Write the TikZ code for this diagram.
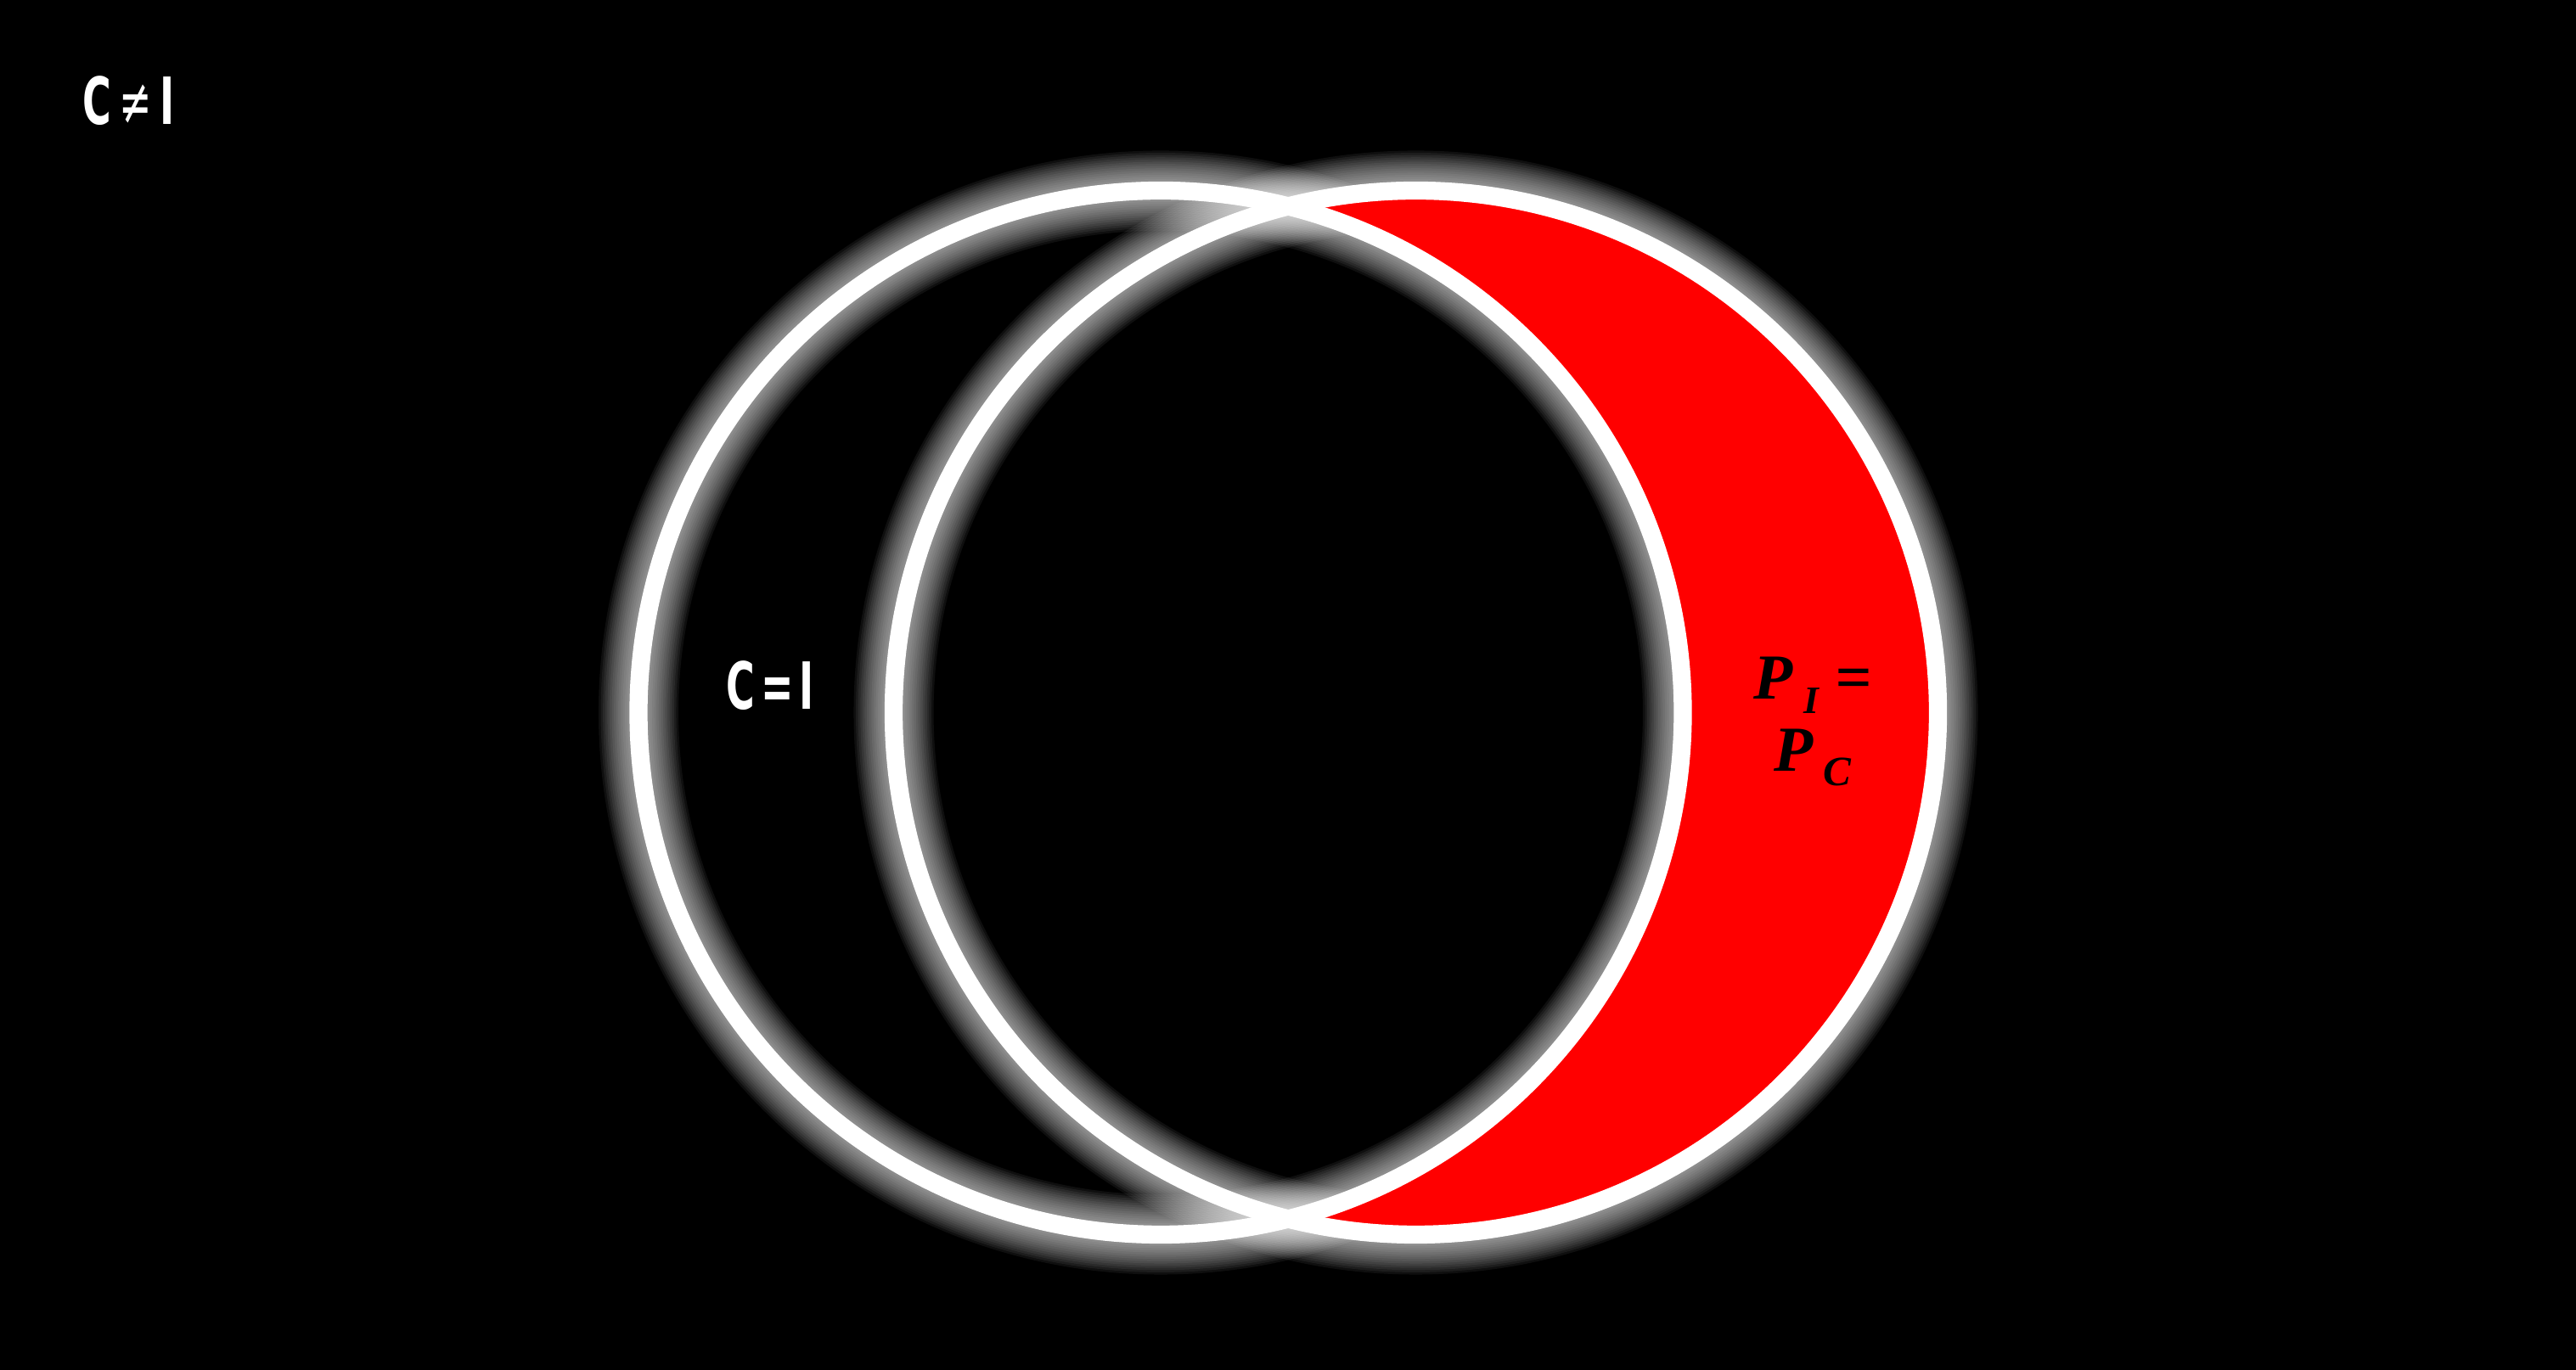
\documentclass[tikz,border=0pt]{standalone}
\usepackage{fontspec}
\newfontfamily\capfont{DejaVu Sans}
\newfontfamily\pfont{Liberation Serif}
\definecolor{myred}{RGB}{255,0,0}
\begin{document}
\begin{tikzpicture}[x=1cm,y=1cm,
  ring/.style={draw=white, line width=0.213cm},
  glowring/.style={draw=white, opacity=0.06},
  captext/.style={text=white, inner sep=0pt, font=\capfont\bfseries\fontsize{21.8}{24}\selectfont},
  ptext/.style={text=black, inner sep=0pt, align=center, font=\pfont\bfseries\itshape\fontsize{21.5}{24.4}\selectfont}]
\fill[black] (0,0) rectangle (30.34,16.14);
\coordinate (L) at (13.67,7.745);
\coordinate (R) at (16.675,7.745);
\foreach \k in {1,...,14}{
  \pgfmathsetmacro\lw{0.213+\k*0.052}
  \draw[glowring, line width=\lw cm] (L) circle[radius=6.15];
  \draw[glowring, line width=\lw cm] (R) circle[radius=6.15];
}
\begin{scope}
  \clip (R) circle[radius=6.15];
  \fill[myred, even odd rule] (R) circle[radius=6.15] (L) circle[radius=6.15];
\end{scope}
\draw[ring] (L) circle[radius=6.15];
\draw[ring] (R) circle[radius=6.15];
\node[captext] (neq) at (1.515,14.95) {\scalebox{0.6}[1]{C\hspace{0.2em}{\mdseries ≠}\hspace{0.2em}I}};
\node[captext] (eq) at (9.07,8.06) {\scalebox{0.6}[1]{C\hspace{0.15em}=\hspace{0.15em}I}};
\node[ptext, anchor=north] (pp) at (21.35,8.41) {P\,\raisebox{-0.17cm}{\fontsize{13}{13}\selectfont I} =\\P\,\raisebox{-0.17cm}{\fontsize{14}{14}\selectfont C}};
\end{tikzpicture}
\end{document}
